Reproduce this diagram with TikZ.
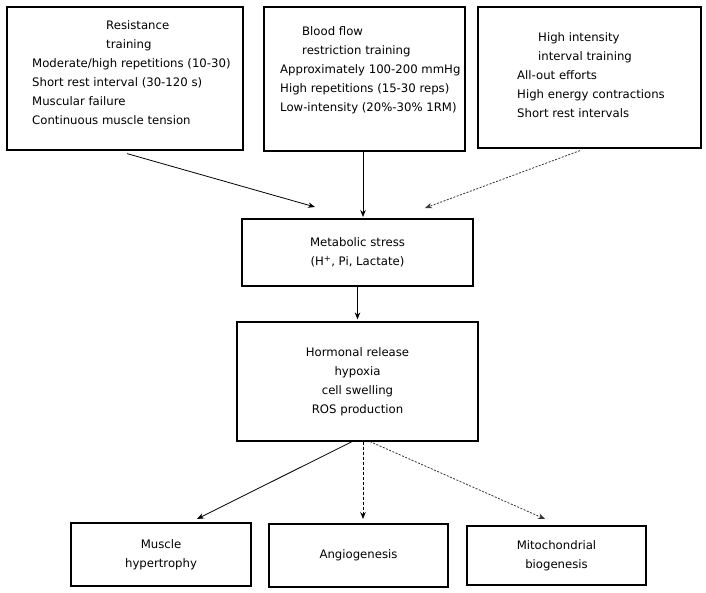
\documentclass[tikz,border=0pt]{standalone}
\usepackage{fontspec}
\setmainfont{DejaVu Sans}
\usetikzlibrary{arrows.meta}

\begin{document}
\begin{tikzpicture}[
	x=1pt, y=-1pt,
	every node/.style={
		font=\fontsize{11.7}{19}\selectfont
	},
	training/.style={
		rectangle,
		draw=black,
		line width=1.2pt,
		minimum height=143pt
	},
	stress/.style={
		rectangle,
		draw=black,
		line width=1.2pt,
		align=center,
		minimum height=67pt,
		minimum width=231pt
	},
	outcome/.style={
		rectangle,
		draw=black,
		line width=1.2pt,
		align=center,
		minimum height=62pt,
		minimum width=180pt
	},
	desc/.style={
		anchor=north west,
		align=left,
		inner sep=0pt
	},
	link/.style={
		line width=0.8pt,
		-{Stealth[length=7pt,width=5.5pt]}
	},
]

\useasboundingbox (0,0) rectangle (706,593);

% Training boxes
\node[training, minimum width=236pt] (rt) at (125,78.5) {};
\node[desc] (rt-text) at (32,20) {\hspace*{74pt}Resistance\\
	\hspace*{74pt}training\\
	Moderate/high repetitions (10-30)\\
	Short rest interval (30-120 s)\\
	Muscular failure\\
	Continuous muscle tension};

\node[training, minimum width=201pt, minimum height=144pt] (bf) at (364.5,79) {};
\node[desc] (bf-text) at (280,26) {\hspace*{22pt}Blood flow\\
	\hspace*{22pt}restriction training\\
	Approximately 100-200 mmHg\\
	High repetitions (15-30 reps)\\
	Low-intensity (20\%-30\% 1RM)};

\node[training, minimum width=223pt, minimum height=141pt] (hi) at (589.5,77.5) {};
\node[desc] (hi-text) at (517,32) {\hspace*{21pt}High intensity\\
	\hspace*{21pt}interval training\\
	All-out efforts\\
	High energy contractions\\
	Short rest intervals};

% Middle
\node[stress] (ms) at (357.5,252.5) {Metabolic stress\\(H\textsuperscript{+}, Pi, Lactate)};
\node[stress, minimum width=241pt, minimum height=119pt] (hr) at (357.5,381.5)
	{Hormonal release\\hypoxia\\cell swelling\\ROS production};

\coordinate (ms-in1) at (315,207);
\coordinate (ms-in2) at (363,217);
\coordinate (ms-in3) at (425,208);

\draw[link] ([xshift=2pt,yshift=-3pt]rt.south) -- (ms-in1);
\draw[link] ([xshift=-1.5pt]bf.south) -- (ms-in2);
\draw[link, dash pattern=on 2pt off 1.5pt, draw=black!80] ([xshift=-9.5pt,yshift=-2pt]hi.south) -- (ms-in3);
\draw[link, shorten >=2pt] (ms.south) -- (hr.north);

% Outcomes
\node[outcome, minimum height=63pt] (mh) at (161,554.5) {Muscle\\hypertrophy};
\node[outcome, minimum width=179pt, minimum height=63pt] (ag) at (358.5,555.5) {Angiogenesis};
\node[outcome, minimum width=179pt, minimum height=59pt] (mb) at (556.5,555.5) {Mitochondrial\\biogenesis};

\coordinate (mh-in) at (197,519);
\coordinate (ag-in) at (363,519);
\coordinate (mb-in) at (545,519);

\draw[link] ([xshift=-5.5pt]hr.south) -- (mh-in);
\draw[link, dash pattern=on 3pt off 2pt] ([xshift=5.5pt]hr.south) -- (ag-in);
\draw[link, dash pattern=on 2pt off 1.5pt, draw=black!80] ([xshift=12.5pt]hr.south) -- (mb-in);

\end{tikzpicture}
\end{document}
